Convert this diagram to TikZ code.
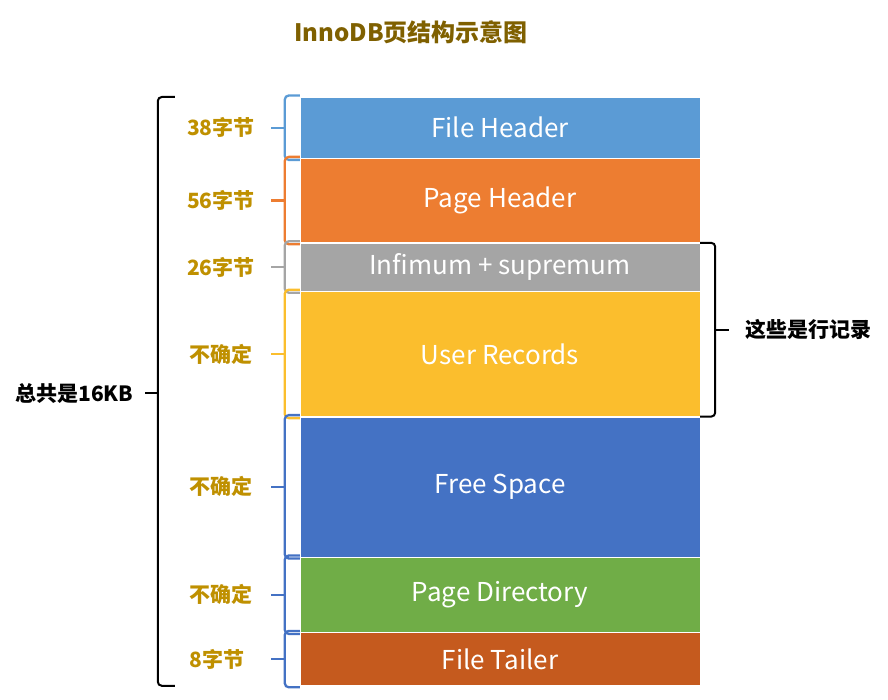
\documentclass[tikz,border=0pt]{standalone}
\usepackage{fontspec}
\usetikzlibrary{calc}
\setmainfont{Noto Sans CJK SC}
\definecolor{cFH}{HTML}{5B9BD5}
\definecolor{cPH}{HTML}{ED7D31}
\definecolor{cIS}{HTML}{A5A5A5}
\definecolor{cUR}{HTML}{FBBE2D}
\definecolor{cFS}{HTML}{4472C4}
\definecolor{cPD}{HTML}{70AD47}
\definecolor{cFT}{HTML}{C55A1E}
\definecolor{cLab}{HTML}{BF9000}
\definecolor{cTitle}{HTML}{7F6000}
\newcommand\segbrace[2]{%
  \draw[#2, line width=2.3pt, rounded corners=4pt]
    ([yshift=1.5]#1.north west) -- ++(-15,0) |- ([yshift=-1.5]#1.south west);
  \draw[#2, line width=2.3pt] ([xshift=-15]#1.west) -- ++(-14,0);}
\begin{document}
\begin{tikzpicture}[x=1pt,y=-1pt,
  seg/.style={draw=white, line width=0.4pt, minimum width=400, inner sep=0pt,
    text=white, font=\fontsize{26}{30}\selectfont, anchor=north},
  lab/.style={text=cLab, font=\fontsize{21}{24}\selectfont\bfseries},
  note/.style={text=black, font=\fontsize{21}{24}\selectfont\bfseries}]
\useasboundingbox (0,0) rectangle (888,700);
\node[text=cTitle, font=\fontsize{24}{28}\selectfont\bfseries] (title) at (411,32) {InnoDB页结构示意图};
\node[seg, fill=cFH, minimum height=61] (fh) at (500,97) {File Header};
\node[seg, fill=cPH, minimum height=84] (ph) at (fh.south) {Page Header};
\node[seg, fill=cIS, minimum height=48] (is) at (ph.south) {Infimum + supremum};
\node[seg, fill=cUR, minimum height=125] (ur) at (is.south) {User Records};
\node[seg, fill=cFS, minimum height=140] (fs) at (ur.south) {Free Space};
\node[seg, fill=cPD, minimum height=75] (pd) at (fs.south) {Page Directory};
\node[seg, fill=cFT, minimum height=53] (ft) at (pd.south) {File Tailer};
\segbrace{fh}{cFH}
\segbrace{ph}{cPH}
\segbrace{is}{cIS}
\segbrace{ur}{cUR}
\segbrace{fs}{cFS}
\segbrace{pd}{cFS}
\segbrace{ft}{cFS}
\node[lab] (l1) at ([xshift=-79]fh.west) {38字节};
\node[lab] (l2) at ([xshift=-79]ph.west) {56字节};
\node[lab] (l3) at ([xshift=-79]is.west) {26字节};
\node[lab] (l4) at ([xshift=-79]ur.west) {不确定};
\node[lab] (l5) at ([xshift=-79]fs.west) {不确定};
\node[lab] (l6) at ([xshift=-79]pd.west) {不确定};
\node[lab] (l7) at ([xshift=-83]ft.west) {8字节};
% big left brace
\coordinate (bt) at ([xshift=-142]fh.north west);
\coordinate (bb) at ([xshift=-142]ft.south west);
\draw[line width=2pt, rounded corners=4pt] ([xshift=17]bt) -- (bt) -- (bb) -- ([xshift=17]bb);
\coordinate (bm) at ($(bt)!0.503!(bb)$);
\draw[line width=2pt] (bm) -- ++(-13,0);
\node[note, anchor=east] (total) at ([xshift=-21]bm) {总共是16KB};
% right brace
\draw[line width=2pt, rounded corners=4pt] (is.north east) -- ++(15,0) |- (ur.south east);
\coordinate (rm) at ($(is.north east)!0.5!(ur.south east)+(15,0)$);
\draw[line width=2pt] (rm) -- ++(14,0);
\node[note, anchor=west] (rows) at ([xshift=27]rm) {这些是行记录};
\end{tikzpicture}
\end{document}
